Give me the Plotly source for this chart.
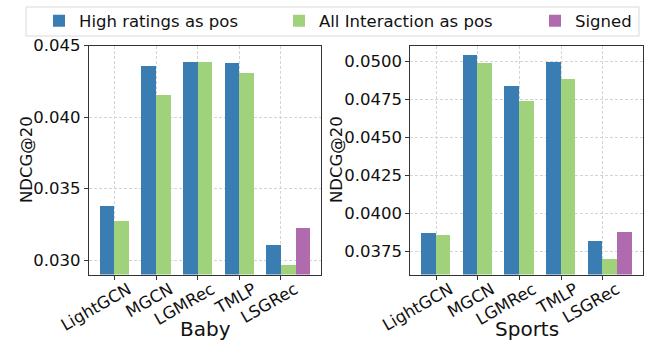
import numpy as np
import plotly.graph_objects as go

categories = ["LightGCN", "MGCN", "LGMRec", "TMLP", "LSGRec"]
series_names = ["High ratings as pos", "All Interaction as pos", "Signed"]

baby_high = [0.0338, 0.0436, 0.0439, 0.0438, 0.0311]
baby_all = [0.03275, 0.0416, 0.0439, 0.0431, 0.0297]
baby_signed = [None, None, None, None, 0.0323]

sports_high = [0.0387, 0.05045, 0.0484, 0.0500, 0.0382]
sports_all = [0.0386, 0.0499, 0.0474, 0.0489, 0.0370]
sports_signed = [None, None, None, None, 0.0388]

baby_ticks = [0.030, 0.035, 0.040, 0.045]
baby_ticktext = ["0.030", "0.035", "0.040", "0.045"]
sports_ticks = [0.0375, 0.0400, 0.0425, 0.0450, 0.0475, 0.0500]
sports_ticktext = ["0.0375", "0.0400", "0.0425", "0.0450", "0.0475", "0.0500"]

colors = ["#3a7db3", "#a0d27c", "#b06bae"]
W = 0.35
FONT = "DejaVu Sans"
FS = 16.5

idx = np.arange(len(categories))
offsets = [-W / 2, W / 2, 3 * W / 2]
legend_ids = ["legend", "legend2", "legend3"]

fig = go.Figure()

panels = [
    ("x", "y", [baby_high, baby_all, baby_signed], True),
    ("x2", "y2", [sports_high, sports_all, sports_signed], False),
]
for xa, ya, vals, show in panels:
    for k, (name, v) in enumerate(zip(series_names, vals)):
        xs = [float(i + offsets[k]) for i, val in zip(idx, v) if val is not None]
        ys = [val for val in v if val is not None]
        fig.add_trace(go.Bar(
            x=xs, y=ys, width=W, name=name, marker_color=colors[k],
            marker_line_width=0, xaxis=xa, yaxis=ya, showlegend=show,
            legendgroup=name, legend=legend_ids[k],
        ))

axis_common = dict(
    showline=True, linecolor="#333", linewidth=1.3, mirror=True,
    ticks="outside", ticklen=4, tickcolor="#333", tickwidth=1,
    showgrid=True, gridcolor="#d4d4d4", griddash="3px,2px", gridwidth=0.8,
    zeroline=False, tickfont=dict(family=FONT, size=FS, color="#111"),
    automargin=False,
)
xaxis_extra = dict(tickangle=-30, ticklabelshift=14, ticklabelstandoff=-6)

ydom = [0.1997, 0.8668]

H = 343.0
Wpx = 647.0
leg_common = dict(
    orientation="h", xanchor="left", yanchor="middle", y=1 - 21 / H,
    bgcolor="rgba(0,0,0,0)", borderwidth=0,
    font=dict(family=FONT, size=FS, color="#111"),
)

def title_ann(text, xpx, ypx, size, angle=0):
    return dict(text=text, xref="paper", yref="paper", x=xpx / Wpx, y=1 - ypx / H,
                xanchor="center", yanchor="middle", showarrow=False, textangle=angle,
                font=dict(family=FONT, size=size, color="#111"))

fig.update_layout(
    width=647, height=343,
    margin=dict(l=0, r=0, t=0, b=0),
    plot_bgcolor="white", paper_bgcolor="white",
    bargap=0, barmode="overlay",
    font=dict(family=FONT, size=FS, color="#111"),
    xaxis=dict(domain=[0.1376, 0.4961], range=[-0.61, 4.96],
               tickmode="array", tickvals=list(idx), ticktext=categories,
               anchor="y", **xaxis_extra, **axis_common),
    yaxis=dict(domain=ydom, range=[0.029, 0.045], anchor="x",
               tickmode="array", tickvals=baby_ticks, ticktext=baby_ticktext,
               **axis_common),
    xaxis2=dict(domain=[0.6342, 0.9943], range=[-0.617, 4.975],
                tickmode="array", tickvals=list(idx), ticktext=categories,
                anchor="y2", **xaxis_extra, **axis_common),
    yaxis2=dict(domain=ydom, range=[0.03597, 0.05105], anchor="x2",
                tickmode="array", tickvals=sports_ticks, ticktext=sports_ticktext,
                **axis_common),
    legend=dict(x=39 / Wpx, **leg_common),
    legend2=dict(x=279 / Wpx, **leg_common),
    legend3=dict(x=535 / Wpx, **leg_common),
    shapes=[dict(type="rect", xref="paper", yref="paper",
                 x0=26 / Wpx, x1=639 / Wpx, y0=1 - 36 / H, y1=1 - 7 / H,
                 line=dict(color="#d9d9d9", width=1), fillcolor="rgba(0,0,0,0)",
                 layer="below")],
    annotations=[
        title_ann("NDCG@20", 26, 160, FS, -90),
        title_ann("NDCG@20", 336, 160, FS, -90),
        title_ann("Baby", 205, 329, 20),
        title_ann("Sports", 527, 329, 20),
    ],
)

fig.write_html("out.html", config={"displayModeBar": False},
               post_script="document.body.style.margin='0px';")
